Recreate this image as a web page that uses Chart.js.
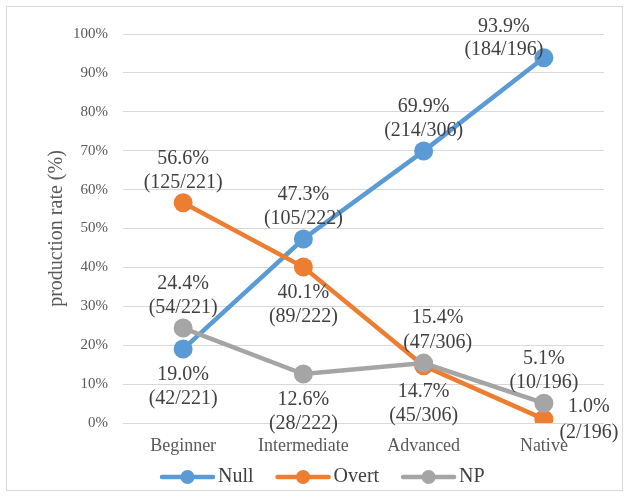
<!DOCTYPE html>
<html>
<head>
<meta charset="utf-8">
<script src="https://cdn.jsdelivr.net/npm/chart.js@4/dist/chart.umd.min.js"></script>
<style>
  html, body { margin: 0; padding: 0; background: #ffffff; }
  #wrap { width: 629px; height: 497px; position: relative; }
</style>
</head>
<body>
<div id="wrap"><canvas id="c" width="629" height="497"></canvas></div>
<script>
// ---- data ----
const categories = ['Beginner', 'Intermediate', 'Advanced', 'Native'];
const seriesNames = ['Null', 'Overt', 'NP'];
const nullRate = [19.0, 47.3, 69.9, 93.9];
const overtRate = [56.6, 40.1, 14.7, 1.0];
const npRate = [24.4, 12.6, 15.4, 5.1];
const nullCounts = [42, 105, 214, 184];
const overtCounts = [125, 89, 45, 2];
const npCounts = [54, 28, 47, 10];
const totals = [221, 222, 306, 196];
const yTicks = [0, 10, 20, 30, 40, 50, 60, 70, 80, 90, 100];
const yTitle = 'production rate (%)';
// label placement keywords (relative to each point)
const nullPlacement = ['below', 'above', 'above', 'aboveLeft'];
const overtPlacement = ['above', 'below', 'below', 'right'];
const npPlacement = ['above', 'below', 'aboveRight', 'above'];

// ---- styles ----
const colors = ['#5B9BD5', '#ED7D31', '#A5A5A5'];
const serif = '"Liberation Serif", "Times New Roman", serif';
const placeOffsets = {
  above: { dx: 0, d1: -44, d2: -20 },
  below: { dx: 0, d1: 26, d2: 50 },
  aboveLeft: { dx: -40, d1: -31, d2: -8 },
  aboveRight: { dx: 14, d1: -45, d2: -20 },
  right: { dx: 45, d1: -12, d2: 14 }
};

const rates = [nullRate, overtRate, npRate];
const counts = [nullCounts, overtCounts, npCounts];
const placements = [nullPlacement, overtPlacement, npPlacement];

const datasets = seriesNames.map((name, i) => ({
  label: name,
  data: rates[i],
  borderColor: colors[i],
  backgroundColor: colors[i],
  pointBackgroundColor: colors[i],
  pointBorderColor: colors[i],
  pointBorderWidth: 0,
  pointRadius: 9.5,
  pointHoverRadius: 9.5,
  borderWidth: 4.5,
  tension: 0,
  order: 3 - i
}));

const deco = {
  id: 'deco',
  afterDraw(chart) {
    const ctx = chart.ctx;
    const area = chart.chartArea;
    ctx.save();
    // outer border
    ctx.strokeStyle = '#d9d9d9';
    ctx.lineWidth = 1;
    ctx.strokeRect(6.5, 6.5, chart.width - 13, chart.height - 13);

    // y axis title
    ctx.save();
    ctx.translate(57, (area.top + area.bottom) / 2);
    ctx.rotate(-Math.PI / 2);
    ctx.font = '20px ' + serif;
    ctx.fillStyle = '#595959';
    ctx.textAlign = 'center';
    ctx.textBaseline = 'middle';
    ctx.fillText(yTitle, 0, 0);
    ctx.restore();

    // data labels
    ctx.font = '20px ' + serif;
    ctx.fillStyle = '#404040';
    ctx.textAlign = 'center';
    ctx.textBaseline = 'middle';
    chart.data.datasets.forEach((ds, di) => {
      const meta = chart.getDatasetMeta(di);
      meta.data.forEach((pt, j) => {
        const off = placeOffsets[placements[di][j]];
        const x = pt.x + off.dx;
        ctx.fillText(rates[di][j].toFixed(1) + '%', x, pt.y + off.d1);
        ctx.fillText('(' + counts[di][j] + '/' + totals[j] + ')', x, pt.y + off.d2);
      });
    });

    // legend
    const ly = 477;
    let lx = 160;
    ctx.font = '20px ' + serif;
    ctx.textAlign = 'left';
    ctx.textBaseline = 'middle';
    chart.data.datasets.forEach((ds) => {
      ctx.strokeStyle = ds.borderColor;
      ctx.lineWidth = 4.5;
      ctx.lineCap = 'round';
      ctx.beginPath();
      ctx.moveTo(lx + 2, ly);
      ctx.lineTo(lx + 53, ly);
      ctx.stroke();
      ctx.fillStyle = ds.borderColor;
      ctx.beginPath();
      ctx.arc(lx + 27.5, ly, 7, 0, Math.PI * 2);
      ctx.fill();
      ctx.fillStyle = '#404040';
      ctx.fillText(ds.label, lx + 58, ly);
      lx += 58 + ctx.measureText(ds.label).width + 22;
    });
    ctx.restore();
  }
};

new Chart(document.getElementById('c'), {
  type: 'line',
  data: { labels: categories, datasets: datasets },
  options: {
    responsive: false,
    animation: false,
    devicePixelRatio: 1,
    layout: { padding: { left: 0, right: 25, top: 34, bottom: 34 } },
    plugins: {
      legend: { display: false },
      tooltip: { enabled: false },
      title: { display: false }
    },
    scales: {
      x: {
        offset: true,
        grid: { display: false, drawTicks: false },
        border: { display: false },
        ticks: {
          padding: 12,
          color: '#595959',
          font: { family: serif, size: 18 },
          maxRotation: 0
        },
        afterFit(scale) { scale.height = 40; }
      },
      y: {
        min: 0,
        max: 100,
        afterBuildTicks(scale) { scale.ticks = yTicks.map(v => ({ value: v })); },
        grid: { color: '#d9d9d9', lineWidth: 1, drawTicks: false },
        border: { display: false },
        ticks: {
          padding: 15,
          color: '#595959',
          font: { family: serif, size: 15 },
          callback: (v) => v + '%'
        },
        afterFit(scale) { scale.width = 123; }
      }
    }
  },
  plugins: [deco]
});
</script>
</body>
</html>
